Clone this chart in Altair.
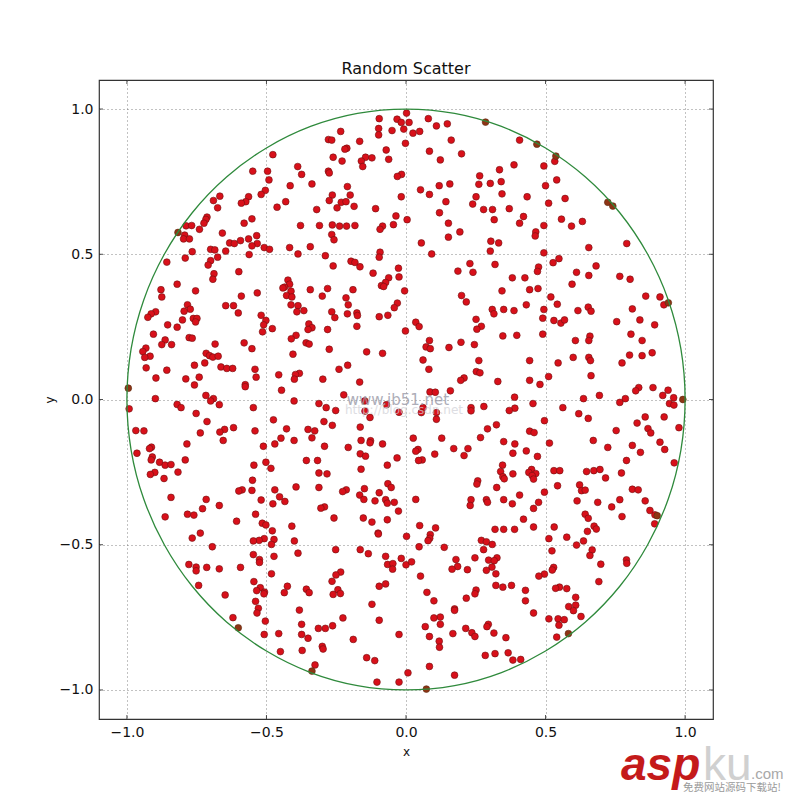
import altair as alt
import pandas as pd

upper_left = [(0.002,0.986),(-0.096,0.967),(-0.032,0.965),(-0.017,0.954),(0.011,0.954),(-0.098,0.933),(-0.008,0.931),(-0.050,0.926),(-0.234,0.923),(-0.098,0.911),(-0.278,0.895),(-0.266,0.893),(-0.166,0.889),(-0.002,0.882),(-0.212,0.865),(-0.219,0.862),(-0.071,0.859),(-0.477,0.843),(-0.261,0.834),(-0.145,0.834),(-0.122,0.832),(-0.062,0.827),(-0.229,0.821),(-0.160,0.821),(-0.155,0.802),(-0.388,0.802),(-0.549,0.786),(-0.496,0.786),(-0.278,0.786),(-0.275,0.780),(-0.374,0.775),(-0.016,0.775),(-0.031,0.768),(-0.491,0.756),(-0.337,0.742),(-0.415,0.736),(-0.210,0.733),(-0.504,0.720),(-0.519,0.706),(-0.264,0.704),(-0.200,0.704),(-0.667,0.700),(-0.017,0.698),(-0.564,0.698),(-0.690,0.685),(-0.275,0.685),(-0.431,0.681),(-0.574,0.681),(-0.590,0.676),(-0.232,0.679),(-0.215,0.681),(-0.247,0.660),(-0.186,0.665),(-0.675,0.660),(-0.462,0.662),(-0.320,0.654),(-0.109,0.657),(-0.036,0.632),(-0.713,0.628),(-0.717,0.620),(-0.552,0.622),(0.004,0.619),(-0.724,0.607),(-0.580,0.607),(-0.788,0.598),(-0.768,0.599),(-0.378,0.599),(-0.310,0.599),(-0.264,0.601),(-0.238,0.597),(-0.213,0.597),(-0.183,0.599),(-0.045,0.602),(-0.084,0.597),(-0.093,0.586),(-0.740,0.586),(-0.658,0.573),(-0.793,0.566),(-0.535,0.564),(-0.266,0.568),(-0.797,0.553),(-0.776,0.553),(-0.564,0.553),(-0.258,0.550),(-0.593,0.547),(-0.632,0.539),(-0.615,0.537),(-0.533,0.537),(-0.552,0.529),(-0.343,0.526),(-0.508,0.523),(-0.489,0.517),(-0.417,0.523),(-0.700,0.517),(-0.685,0.515),(-0.646,0.511),(-0.766,0.509),(-0.387,0.501),(-0.093,0.507),(-0.562,0.499),(-0.289,0.495),(-0.096,0.490),(-0.675,0.490),(-0.791,0.487),(-0.857,0.473),(-0.700,0.478),(-0.709,0.463),(-0.197,0.476),(-0.183,0.472),(-0.165,0.457),(-0.261,0.460),(-0.027,0.452),(-0.599,0.440),(-0.118,0.435),(-0.688,0.433),(-0.062,0.419),(-0.025,0.422),(-0.692,0.414),(-0.423,0.411),(-0.820,0.397),(-0.417,0.397),(-0.073,0.403),(-0.088,0.392),(-0.080,0.389),(-0.435,0.387),(-0.441,0.384),(-0.878,0.378),(-0.754,0.374),(-0.343,0.378),(-0.281,0.382),(-0.190,0.378),(-0.005,0.374),(-0.412,0.373),(-0.533,0.367),(-0.428,0.358),(-0.409,0.353),(-0.590,0.356),(-0.300,0.356),(-0.215,0.350),(-0.875,0.353),(-0.207,0.326),(-0.031,0.332),(-0.783,0.326),(-0.646,0.323),(-0.618,0.323),(-0.412,0.326),(-0.387,0.323),(-0.773,0.311),(-0.795,0.304),(-0.897,0.302),(-0.913,0.295),(-0.366,0.306),(-0.391,0.302),(-0.601,0.298),(-0.266,0.302),(-0.042,0.316),(-0.925,0.283),(-0.210,0.295),(-0.176,0.298),(-0.174,0.289),(-0.519,0.290),(-0.096,0.285),(-0.065,0.290),(-0.255,0.282),(-0.762,0.279),(-0.749,0.279),(-0.801,0.274),(-0.502,0.272),(-0.754,0.267),(-0.348,0.260),(-0.854,0.257),(-0.820,0.249),(-0.510,0.257),(-0.337,0.247),(-0.351,0.241),(-0.479,0.244),(-0.281,0.241),(-0.176,0.252),(-0.002,0.236),(-0.514,0.233),(-0.905,0.225),(-0.394,0.221),(-0.777,0.213),(-0.766,0.211),(-0.411,0.209),(-0.863,0.205),(-0.580,0.195),(-0.684,0.191),(-0.875,0.189),(-0.840,0.189),(-0.358,0.195),(-0.347,0.191),(-0.932,0.177),(-0.552,0.175),(-0.275,0.173),(-0.943,0.165),(-0.141,0.164),(-0.405,0.156),(-0.084,0.159),(-0.716,0.159),(-0.704,0.151),(-0.692,0.146),(-0.673,0.149),(-0.917,0.149),(-0.936,0.145),(-0.721,0.126),(-0.209,0.118),(-0.758,0.118),(-0.931,0.109),(-0.663,0.112),(-0.642,0.107),(-0.621,0.107),(-0.541,0.104),(-0.240,0.104),(-0.857,0.101),(-0.382,0.090),(-0.456,0.085),(-0.396,0.086),(-0.537,0.077),(-0.896,0.074),(-0.741,0.077),(-0.400,0.070),(-0.298,0.070),(-0.789,0.071),(-0.166,0.060),(-0.758,0.050),(-0.576,0.051),(-0.576,0.044),(-0.446,0.032),(-0.223,0.016),(-0.717,0.014),(-0.690,0.003),(-0.898,0.003)]

upper_right = [(0.080,0.967),(0.109,0.942),(0.148,0.949),(0.025,0.917),(0.049,0.923),(0.162,0.893),(0.407,0.893),(0.533,0.820),(0.084,0.855),(0.199,0.846),(0.123,0.825),(0.387,0.808),(0.494,0.804),(0.335,0.791),(0.264,0.770),(0.341,0.750),(0.261,0.741),(0.302,0.744),(0.540,0.756),(0.500,0.736),(0.157,0.742),(0.119,0.736),(0.052,0.722),(0.084,0.706),(0.344,0.708),(0.251,0.698),(0.434,0.698),(0.570,0.692),(0.143,0.681),(0.239,0.673),(0.511,0.676),(0.278,0.654),(0.310,0.654),(0.370,0.657),(0.120,0.643),(0.421,0.630),(0.316,0.619),(0.557,0.621),(0.632,0.613),(0.152,0.607),(0.407,0.607),(0.494,0.599),(0.593,0.597),(0.193,0.577),(0.465,0.577),(0.463,0.563),(0.152,0.559),(0.304,0.545),(0.332,0.539),(0.055,0.539),(0.791,0.537),(0.655,0.523),(0.302,0.511),(0.092,0.501),(0.494,0.505),(0.548,0.485),(0.527,0.471),(0.229,0.468),(0.319,0.465),(0.681,0.460),(0.475,0.456),(0.471,0.441),(0.186,0.442),(0.240,0.438),(0.611,0.438),(0.655,0.427),(0.766,0.424),(0.381,0.419),(0.426,0.419),(0.803,0.414),(0.595,0.397),(0.473,0.382),(0.443,0.378),(0.344,0.374),(0.199,0.358),(0.519,0.353),(0.859,0.356),(0.910,0.353),(0.924,0.326),(0.216,0.336),(0.542,0.328),(0.431,0.326),(0.309,0.310),(0.350,0.310),(0.387,0.306),(0.494,0.310),(0.653,0.318),(0.663,0.304),(0.616,0.306),(0.811,0.312),(0.315,0.295),(0.251,0.276),(0.490,0.280),(0.530,0.272),(0.555,0.263),(0.568,0.274),(0.838,0.274),(0.755,0.268),(0.035,0.266),(0.047,0.251),(0.270,0.252),(0.254,0.242),(0.891,0.257),(0.490,0.225),(0.347,0.219),(0.397,0.221),(0.806,0.225),(0.659,0.218),(0.655,0.203),(0.607,0.203),(0.846,0.203),(0.084,0.203),(0.197,0.197),(0.072,0.181),(0.087,0.175),(0.154,0.179),(0.245,0.189),(0.882,0.161),(0.801,0.153),(0.846,0.151),(0.599,0.145),(0.655,0.145),(0.661,0.134),(0.261,0.134),(0.443,0.134),(0.061,0.136),(0.545,0.126),(0.774,0.126),(0.082,0.104),(0.252,0.096),(0.265,0.092),(0.663,0.082),(0.511,0.079),(0.208,0.074),(0.196,0.066),(0.329,0.062),(0.443,0.066),(0.480,0.052),(0.834,0.041),(0.823,0.030),(0.885,0.041),(0.939,0.032),(0.159,0.030),(0.086,0.026),(0.105,0.025),(0.693,0.014),(0.920,0.014),(0.389,0.008),(0.636,0.003),(0.786,0.003),(0.959,0.006)]

lower_left = [(-0.700,-0.005),(-0.401,-0.005),(-0.148,-0.005),(-0.312,-0.014),(-0.820,-0.017),(-0.806,-0.028),(-0.669,-0.018),(-0.547,-0.028),(-0.286,-0.028),(-0.070,-0.018),(-0.992,-0.032),(-0.252,-0.038),(-0.147,-0.040),(-0.025,-0.044),(-0.752,-0.048),(-0.129,-0.062),(-0.713,-0.076),(-0.475,-0.070),(-0.294,-0.076),(-0.264,-0.089),(-0.164,-0.095),(-0.618,-0.097),(-0.968,-0.107),(-0.939,-0.108),(-0.650,-0.103),(-0.667,-0.112),(-0.737,-0.115),(-0.541,-0.108),(-0.428,-0.101),(-0.351,-0.103),(-0.327,-0.108),(-0.448,-0.133),(-0.337,-0.132),(-0.655,-0.141),(-0.401,-0.141),(-0.161,-0.141),(-0.127,-0.142),(-0.129,-0.149),(-0.084,-0.153),(-0.785,-0.153),(-0.470,-0.153),(-0.511,-0.161),(-0.292,-0.161),(-0.207,-0.165),(-0.912,-0.164),(-0.919,-0.169),(-0.964,-0.185),(-0.164,-0.187),(-0.145,-0.195),(-0.032,-0.201),(-0.909,-0.198),(-0.913,-0.208),(-0.791,-0.208),(-0.357,-0.210),(-0.317,-0.210),(-0.883,-0.216),(-0.502,-0.216),(-0.863,-0.226),(-0.842,-0.224),(-0.545,-0.226),(-0.067,-0.226),(-0.484,-0.237),(-0.161,-0.240),(-0.817,-0.250),(-0.900,-0.251),(-0.916,-0.258),(-0.312,-0.253),(-0.283,-0.256),(-0.867,-0.272),(-0.550,-0.278),(-0.065,-0.290),(-0.053,-0.303),(-0.394,-0.301),(-0.312,-0.303),(-0.149,-0.307),(-0.587,-0.311),(-0.599,-0.315),(-0.552,-0.313),(-0.470,-0.311),(-0.214,-0.311),(-0.227,-0.317),(-0.096,-0.321),(-0.166,-0.329),(-0.453,-0.335),(-0.842,-0.337),(-0.151,-0.344),(-0.519,-0.346),(-0.716,-0.344),(-0.434,-0.351),(-0.111,-0.349),(-0.073,-0.345),(-0.067,-0.357),(-0.042,-0.354),(-0.477,-0.359),(-0.669,-0.365),(-0.292,-0.370),(-0.305,-0.374),(-0.729,-0.376),(-0.027,-0.384),(-0.783,-0.395),(-0.760,-0.398),(-0.539,-0.395),(-0.863,-0.404),(-0.258,-0.408),(-0.153,-0.408),(-0.067,-0.414),(-0.607,-0.419),(-0.122,-0.422),(-0.515,-0.426),(-0.502,-0.432),(-0.409,-0.436),(-0.479,-0.452),(-0.737,-0.460),(-0.100,-0.460),(-0.099,-0.463),(0.002,-0.471),(-0.766,-0.477),(-0.473,-0.482),(-0.508,-0.479),(-0.526,-0.485),(-0.547,-0.487),(-0.400,-0.487),(-0.482,-0.499),(-0.694,-0.507),(-0.164,-0.517),(-0.252,-0.517),(-0.387,-0.529),(-0.135,-0.531),(-0.547,-0.534),(-0.473,-0.540),(-0.073,-0.540),(-0.017,-0.547),(-0.525,-0.551),(-0.525,-0.561),(-0.066,-0.568),(-0.047,-0.565),(0.000,-0.569),(-0.778,-0.568),(-0.752,-0.577),(-0.752,-0.590),(-0.714,-0.578),(-0.669,-0.583),(-0.593,-0.578),(-0.048,-0.584),(-0.234,-0.594),(-0.251,-0.604),(-0.482,-0.600),(-0.265,-0.626),(-0.545,-0.627),(-0.073,-0.635),(-0.096,-0.643),(-0.743,-0.640),(-0.425,-0.643),(-0.522,-0.648),(-0.535,-0.658),(-0.357,-0.653),(-0.244,-0.655),(-0.507,-0.663),(-0.509,-0.669),(-0.436,-0.665),(-0.347,-0.665),(-0.261,-0.671),(-0.235,-0.668),(-0.648,-0.673),(-0.539,-0.695),(-0.122,-0.705),(-0.529,-0.719),(-0.382,-0.725),(-0.534,-0.735),(-0.620,-0.751),(-0.226,-0.752),(-0.096,-0.760),(-0.504,-0.763),(-0.374,-0.774),(-0.263,-0.779),(-0.314,-0.788),(-0.289,-0.788),(-0.508,-0.809),(-0.456,-0.806),(-0.374,-0.809),(-0.025,-0.809),(-0.351,-0.822),(-0.189,-0.826),(-0.300,-0.850),(-0.297,-0.859),(-0.372,-0.864),(-0.450,-0.868),(-0.141,-0.889),(-0.112,-0.899),(-0.326,-0.914),(0.007,-0.941),(-0.104,-0.973),(-0.025,-0.973)]

lower_right = [(0.766,-0.010),(0.455,-0.014),(0.944,-0.014),(0.960,-0.019),(0.061,-0.028),(0.562,-0.028),(0.279,-0.024),(0.233,-0.028),(0.233,-0.039),(0.390,-0.030),(0.370,-0.038),(0.109,-0.045),(0.055,-0.045),(0.619,-0.049),(0.857,-0.060),(0.925,-0.060),(0.653,-0.065),(0.109,-0.068),(0.496,-0.073),(0.828,-0.081),(0.324,-0.087),(0.292,-0.101),(0.753,-0.107),(0.867,-0.100),(0.978,-0.097),(0.443,-0.109),(0.459,-0.114),(0.877,-0.115),(0.026,-0.133),(0.128,-0.133),(0.267,-0.131),(0.671,-0.141),(0.350,-0.145),(0.910,-0.147),(0.390,-0.153),(0.514,-0.150),(0.811,-0.158),(0.723,-0.165),(0.043,-0.172),(0.035,-0.178),(0.171,-0.169),(0.222,-0.169),(0.927,-0.172),(0.431,-0.177),(0.383,-0.185),(0.840,-0.182),(0.103,-0.188),(0.208,-0.193),(0.471,-0.196),(0.058,-0.208),(0.045,-0.210),(0.790,-0.210),(0.961,-0.218),(0.346,-0.226),(0.450,-0.241),(0.339,-0.248),(0.530,-0.245),(0.551,-0.245),(0.647,-0.248),(0.673,-0.245),(0.695,-0.241),(0.440,-0.251),(0.383,-0.256),(0.465,-0.255),(0.772,-0.253),(0.347,-0.266),(0.452,-0.262),(0.352,-0.273),(0.457,-0.274),(0.715,-0.270),(0.257,-0.280),(0.254,-0.291),(0.622,-0.294),(0.543,-0.297),(0.325,-0.303),(0.629,-0.314),(0.642,-0.312),(0.811,-0.309),(0.832,-0.311),(0.496,-0.319),(0.407,-0.329),(0.035,-0.344),(0.233,-0.345),(0.288,-0.345),(0.350,-0.345),(0.292,-0.354),(0.613,-0.349),(0.766,-0.345),(0.857,-0.349),(0.475,-0.354),(0.687,-0.354),(0.381,-0.359),(0.230,-0.365),(0.737,-0.370),(0.457,-0.375),(0.874,-0.382),(0.642,-0.395),(0.892,-0.397),(0.774,-0.403),(0.653,-0.409),(0.421,-0.412),(0.891,-0.428),(0.049,-0.434),(0.106,-0.442),(0.674,-0.436),(0.457,-0.439),(0.531,-0.439),(0.319,-0.447),(0.350,-0.447),(0.389,-0.447),(0.682,-0.446),(0.650,-0.454),(0.087,-0.465),(0.576,-0.474),(0.085,-0.478),(0.079,-0.486),(0.512,-0.479),(0.270,-0.485),(0.288,-0.490),(0.636,-0.487),(0.309,-0.499),(0.611,-0.501),(0.047,-0.507),(0.137,-0.509),(0.278,-0.517),(0.523,-0.521),(0.667,-0.518),(0.659,-0.537),(0.247,-0.545),(0.326,-0.545),(0.179,-0.551),(0.296,-0.553),(0.316,-0.555),(0.020,-0.559),(0.790,-0.552),(0.791,-0.564),(0.698,-0.567),(0.185,-0.575),(0.165,-0.584),(0.220,-0.586),(0.308,-0.577),(0.288,-0.588),(0.529,-0.578),(0.524,-0.587),(0.322,-0.600),(0.496,-0.601),(0.476,-0.608),(0.052,-0.608),(0.691,-0.627),(0.322,-0.640),(0.347,-0.646),(0.378,-0.640),(0.550,-0.646),(0.536,-0.650),(0.576,-0.651),(0.251,-0.656),(0.428,-0.657),(0.247,-0.669),(0.075,-0.664),(0.216,-0.684),(0.608,-0.681),(0.100,-0.693),(0.428,-0.693),(0.608,-0.708),(0.583,-0.713),(0.174,-0.721),(0.174,-0.726),(0.600,-0.727),(0.457,-0.735),(0.627,-0.747),(0.123,-0.749),(0.100,-0.752),(0.512,-0.755),(0.545,-0.755),(0.567,-0.758),(0.123,-0.774),(0.295,-0.774),(0.290,-0.782),(0.069,-0.782),(0.548,-0.777),(0.214,-0.788),(0.315,-0.804),(0.236,-0.803),(0.168,-0.806),(0.247,-0.816),(0.084,-0.816),(0.358,-0.820),(0.540,-0.818),(0.119,-0.832),(0.120,-0.853),(0.366,-0.872),(0.319,-0.875),(0.284,-0.881),(0.383,-0.897),(0.411,-0.895),(0.084,-0.919),(0.174,-0.949)]

on_circle = [(-0.817,0.575),(0.285,0.955),(0.469,0.879),(0.537,0.838),(0.723,0.679),(0.741,0.666),(0.940,0.333),(0.992,0.000),(-0.995,0.039),(-0.337,-0.935),(0.073,-0.997),(0.582,-0.806),(0.900,-0.400),(-0.601,-0.786)]

circle_x = [1.0,0.985,0.940,0.866,0.766,0.643,0.5,0.342,0.174,0.0,-0.174,-0.342,-0.5,-0.643,-0.766,-0.866,-0.940,-0.985,-1.0,-0.985,-0.940,-0.866,-0.766,-0.643,-0.5,-0.342,-0.174,0.0,0.174,0.342,0.5,0.643,0.766,0.866,0.940,0.985]
circle_y = [0.0,0.174,0.342,0.5,0.643,0.766,0.866,0.940,0.985,1.0,0.985,0.940,0.866,0.766,0.643,0.5,0.342,0.174,0.0,-0.174,-0.342,-0.5,-0.643,-0.766,-0.866,-0.940,-0.985,-1.0,-0.985,-0.940,-0.866,-0.766,-0.643,-0.5,-0.342,-0.174]

ticks = [-1.0, -0.5, 0.0, 0.5, 1.0]
PW, PH = 614, 639
FONT = "DejaVu Sans"

pts = pd.DataFrame(upper_left + upper_right + lower_left + lower_right, columns=["x", "y"])
edge = pd.DataFrame(on_circle, columns=["x", "y"])
circ = pd.DataFrame({"x": circle_x, "y": circle_y, "i": list(range(len(circle_x)))})
tick_df = pd.DataFrame({"t": ticks})

xs = alt.Scale(domain=[-1.1, 1.1], nice=False, zero=False)
ys = alt.Scale(domain=[-1.1, 1.1], nice=False, zero=False)
axis_common = dict(values=ticks, format=".1f", grid=True, gridColor="#666", gridDash=[1, 3], gridWidth=0.8,
                   domain=False, ticks=False, labelFont=FONT, labelFontSize=14, labelColor="#111",
                   titleFont=FONT, titleFontSize=12, titleFontWeight="normal", titleColor="#111")
X = alt.X("x:Q", scale=xs, axis=alt.Axis(title="x", labelPadding=6, titlePadding=7, **axis_common))
Y = alt.Y("y:Q", scale=ys, axis=alt.Axis(title="y", labelPadding=6, titlePadding=3, **axis_common))

red = alt.Chart(pts).mark_point(filled=True, shape="circle", size=46, fill="#d8101a", stroke="#701010",
                                strokeWidth=0.6, opacity=1).encode(x=X, y=Y)
dark = alt.Chart(edge).mark_point(filled=True, shape="circle", size=46, fill="#8e3414", stroke="#5e2a10",
                                  strokeWidth=0.6, opacity=1).encode(x="x:Q", y="y:Q")
ring = alt.Chart(circ).mark_line(interpolate="cardinal-closed", tension=0, color="#2f8a3c", strokeWidth=1.3).encode(
    x="x:Q", y="y:Q", order="i:Q")

tcol = "#222"
tick_layers = [
    alt.Chart(tick_df).mark_rule(color=tcol, strokeWidth=0.8).encode(x=alt.X("t:Q", scale=xs), y=alt.value(0), y2=alt.value(4)),
    alt.Chart(tick_df).mark_rule(color=tcol, strokeWidth=0.8).encode(x=alt.X("t:Q", scale=xs), y=alt.value(PH - 4), y2=alt.value(PH)),
    alt.Chart(tick_df).mark_rule(color=tcol, strokeWidth=0.8).encode(y=alt.Y("t:Q", scale=ys), x=alt.value(0), x2=alt.value(4)),
    alt.Chart(tick_df).mark_rule(color=tcol, strokeWidth=0.8).encode(y=alt.Y("t:Q", scale=ys), x=alt.value(PW - 4), x2=alt.value(PW)),
]


def label(text, px, py, **kw):
    return alt.Chart(pd.DataFrame({"t": [text]})).mark_text(baseline="alphabetic", **kw).encode(
        text="t:N", x=alt.value(px - 99), y=alt.value(py - 80))


texts = [
    label("www.jb51.net", 398, 405, font=FONT, fontSize=15, color="#9a9aa8", opacity=0.8, align="center"),
    label("http://blog.csdn.net", 404, 414, font=FONT, fontSize=12, color="#d0d0d6", opacity=0.7, align="center"),
    label("asp", 621, 780, font="Liberation Sans", fontSize=46, fontWeight="bold", fontStyle="italic", color="#c41a1a", align="left"),
    label("ku", 703, 780, font="Liberation Sans", fontSize=46, color="#d0d0d0", align="left"),
    label(".com", 751, 779, font="Liberation Sans", fontSize=15, color="#a8a8a8", align="left"),
    label("免费网站源码下载站!", 683, 791, font="Noto Sans CJK SC", fontSize=10.5, color="#9a9a9a", align="left"),
]

chart = alt.layer(red, dark, ring, *tick_layers, *texts).properties(
    width=PW, height=PH,
    title=alt.TitleParams("Random Scatter", font=FONT, fontSize=16, fontWeight="normal", color="#111", offset=3),
    autosize=alt.AutoSizeParams(type="none"),
    padding={"left": 91, "top": 72, "right": 71, "bottom": 73},
    background="white",
).configure_view(stroke="#333", strokeWidth=1.2)

chart.save("out.html", embed_options={"renderer": "svg", "actions": False})
